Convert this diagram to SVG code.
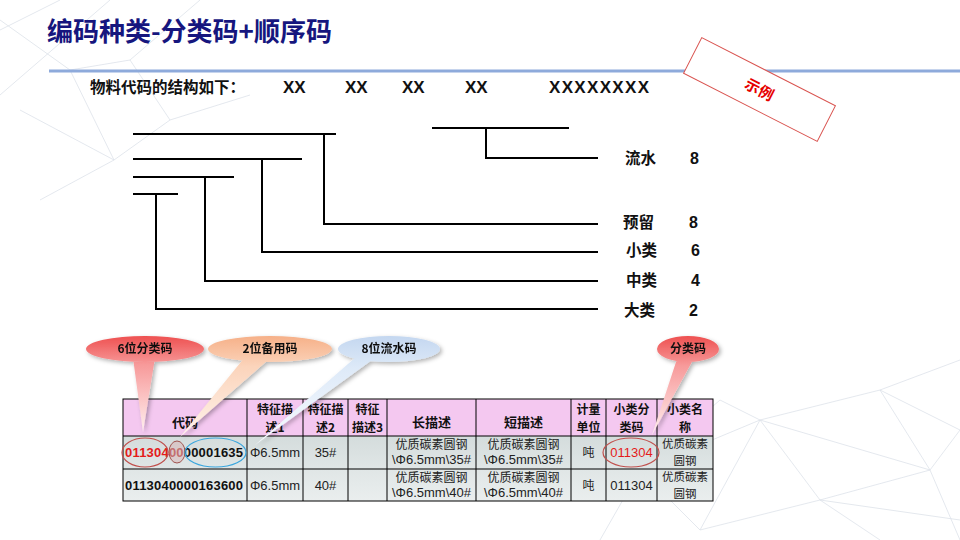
<svg xmlns="http://www.w3.org/2000/svg" width="960" height="540" viewBox="0 0 960 540">
<style>
.cjk{font-family:"Noto Sans CJK SC","Liberation Sans",sans-serif}
.lat{font-family:"Liberation Sans","Noto Sans CJK SC",sans-serif}
.b{font-weight:bold}
.ln{stroke:#000;stroke-width:2;fill:none}
.mesh{stroke:#dde2ea;stroke-width:0.8;fill:none}
.grid{stroke:#000;stroke-width:1;fill:none}
.hd{font-family:"Noto Sans CJK SC","Liberation Sans",sans-serif;font-weight:bold;font-size:13px;fill:#111;text-anchor:middle}
.hd2{font-family:"Noto Sans CJK SC","Liberation Sans",sans-serif;font-weight:bold;font-size:12px;fill:#111;text-anchor:middle}
.cell{font-family:"Noto Sans CJK SC","Liberation Sans",sans-serif;font-size:12px;fill:#222;text-anchor:middle}
.cell2{font-family:"Noto Sans CJK SC","Liberation Sans",sans-serif;font-size:11.5px;fill:#222;text-anchor:middle}
.num{font-family:"Liberation Sans","Noto Sans CJK SC",sans-serif;font-size:13px;fill:#222;text-anchor:middle}
.lbl{font-family:"Noto Sans CJK SC","Liberation Sans",sans-serif;font-weight:bold;font-size:15.5px;fill:#111}
.dg{font-family:"Liberation Sans",sans-serif;font-weight:bold;font-size:16px;fill:#111}
.ct{font-family:"Noto Sans CJK SC","Liberation Sans",sans-serif;font-weight:bold;font-size:12px;fill:#111;text-anchor:middle}
</style>
<defs>
<linearGradient id="gRed" x1="0" y1="0" x2="0" y2="1">
<stop offset="0" stop-color="#ee5050"/><stop offset="0.3" stop-color="#f79a9a"/><stop offset="1" stop-color="#fff0f0"/>
</linearGradient>
<linearGradient id="gPeach" x1="0" y1="0" x2="0" y2="1">
<stop offset="0" stop-color="#f6b088"/><stop offset="0.3" stop-color="#fbd4bb"/><stop offset="1" stop-color="#fff4ec"/>
</linearGradient>
<linearGradient id="gBlue" x1="0" y1="0" x2="0" y2="1">
<stop offset="0" stop-color="#c4d7f0"/><stop offset="0.3" stop-color="#deeaf8"/><stop offset="1" stop-color="#f8fbff"/>
</linearGradient>
<linearGradient id="gRow1" x1="0" y1="0" x2="0" y2="1">
<stop offset="0" stop-color="#d4dcdc"/><stop offset="1" stop-color="#e0e6e6"/>
</linearGradient>
<linearGradient id="gRow2" x1="0" y1="0" x2="0" y2="1">
<stop offset="0" stop-color="#e0e6e6"/><stop offset="1" stop-color="#eaeeee"/>
</linearGradient>
<filter id="sh" x="-20%" y="-20%" width="140%" height="140%">
<feDropShadow dx="2" dy="2" stdDeviation="2" flood-color="#000" flood-opacity="0.3"/>
</filter>
</defs>

<rect width="960" height="540" fill="#fff"/>

<!-- background mesh -->
<g id="background-mesh">
<path class="mesh" stroke="#dfe6f2" d="M0,30 L60,0 M0,95 L110,0 M20,110 L114,160 L70,70 L0,20 M114,160 L170,120 L130,60 L70,70 M170,120 L250,95 M114,160 L40,200 M130,60 L200,0"/>
<path class="mesh" d="M560,500 L640,470 L700,530 L760,420 L880,390 L960,430 M640,470 L760,420 L820,500 L930,470 L960,430 M700,530 L820,500 L880,540 M760,420 L930,470 L880,390 M820,500 L960,520 M600,540 L640,470 M930,470 L960,540 M880,390 L960,360 M720,400 L760,420 M720,400 L640,470"/>
</g>

<!-- title -->
<g id="title">
<text x="47" y="41" class="cjk b" font-size="26" fill="#16167e">编码种类-分类码+顺序码</text>
<line x1="49" y1="71" x2="960" y2="71" stroke="#8eaadb" stroke-width="3"/>
</g>

<!-- stamp -->
<g id="stamp" transform="rotate(27 759.5 89.5)">
<rect x="684.5" y="69.5" width="150" height="40" fill="#fff" stroke="#d9534f" stroke-width="1"/>
<text x="759.5" y="95" class="cjk b" font-size="15" fill="#e60000" text-anchor="middle">示例</text>
</g>

<!-- structure heading -->
<g id="structure-heading">
<text x="90" y="93" class="cjk b" font-size="15.5" fill="#111">物料代码的结构如下：</text>
<text x="283" y="93" class="lat b" font-size="17" fill="#111">XX</text>
<text x="345" y="93" class="lat b" font-size="17" fill="#111">XX</text>
<text x="402" y="93" class="lat b" font-size="17" fill="#111">XX</text>
<text x="465" y="93" class="lat b" font-size="17" fill="#111">XX</text>
<text x="549" y="93" class="lat b" font-size="17" fill="#111" textLength="100" lengthAdjust="spacing">XXXXXXXX</text>
</g>

<!-- connectors -->
<g id="connectors">
<path class="ln" d="M133,134 H336 M324,134 V224 H598"/>
<path class="ln" d="M133,159 H302 M262,159 V252 H598"/>
<path class="ln" d="M133,177 H234 M205,177 V281 H598"/>
<path class="ln" d="M133,194 H178 M156,194 V309 H598"/>
<path class="ln" d="M432,128 H569 M486,128 V158 H598"/>
</g>

<!-- labels -->
<g id="label-liushui"><text x="625" y="164" class="lbl">流水</text><text x="690" y="164" class="dg">8</text></g>
<g id="label-yuliu"><text x="623" y="228" class="lbl">预留</text><text x="689" y="228" class="dg">8</text></g>
<g id="label-xiaolei"><text x="626" y="256" class="lbl">小类</text><text x="691" y="256" class="dg">6</text></g>
<g id="label-zhonglei"><text x="626" y="286" class="lbl">中类</text><text x="691" y="286" class="dg">4</text></g>
<g id="label-dalei"><text x="624" y="316" class="lbl">大类</text><text x="689" y="316" class="dg">2</text></g>

<!-- table -->
<g id="table">
<rect x="123" y="399" width="590" height="37" fill="#f4c8f0"/>
<rect x="123" y="436" width="590" height="33" fill="url(#gRow1)"/>
<rect x="123" y="469" width="590" height="32" fill="url(#gRow2)"/>
<rect class="grid" x="123" y="399" width="590" height="102"/>
<path class="grid" d="M123,436 H713 M123,469 H713 M247,399 V501 M303,399 V501 M348,399 V501 M387,399 V501 M476,399 V501 M571,399 V501 M606,399 V501 M657,399 V501"/>
<!-- header -->
<text class="hd" x="185" y="427">代码</text>
<text class="hd2" x="275" y="414">特征描</text><text class="hd2" x="275" y="432">述1</text>
<text class="hd2" x="325.5" y="414">特征描</text><text class="hd2" x="325.5" y="432">述2</text>
<text class="hd2" x="367.5" y="414">特征</text><text class="hd2" x="367.5" y="432">描述3</text>
<text class="hd" x="431.5" y="427">长描述</text>
<text class="hd" x="523.5" y="427">短描述</text>
<text class="hd2" x="588.5" y="414">计量</text><text class="hd2" x="588.5" y="432">单位</text>
<text class="hd2" x="631.5" y="414">小类分</text><text class="hd2" x="631.5" y="432">类码</text>
<text class="hd2" x="685" y="414">小类名</text><text class="hd2" x="685" y="432">称</text>
<!-- row 1 -->
<text class="lat b" x="125" y="457" font-size="13" textLength="118" lengthAdjust="spacing"><tspan fill="#e41b1b">011304</tspan><tspan fill="#b85555">00</tspan><tspan fill="#111">00001635</tspan></text>
<text class="num" x="275" y="457">Φ6.5mm</text>
<text class="num" x="325.5" y="457">35#</text>
<text class="cell" x="431.5" y="449">优质碳素圆钢</text><text class="num" x="431.5" y="464">\Φ6.5mm\35#</text>
<text class="cell" x="523.5" y="449">优质碳素圆钢</text><text class="num" x="523.5" y="464">\Φ6.5mm\35#</text>
<text class="cell" x="588.5" y="457">吨</text>
<text class="num" x="631.5" y="457" style="fill:#e41b1b">011304</text>
<text class="cell2" x="685" y="448">优质碳素</text><text class="cell2" x="685" y="465">圆钢</text>
<!-- row 2 -->
<text class="lat b" x="125" y="490" font-size="13" fill="#111" textLength="118" lengthAdjust="spacing">0113040000163600</text>
<text class="num" x="275" y="490">Φ6.5mm</text>
<text class="num" x="325.5" y="490">40#</text>
<text class="cell" x="431.5" y="482">优质碳素圆钢</text><text class="num" x="431.5" y="497">\Φ6.5mm\40#</text>
<text class="cell" x="523.5" y="482">优质碳素圆钢</text><text class="num" x="523.5" y="497">\Φ6.5mm\40#</text>
<text class="cell" x="588.5" y="490">吨</text>
<text class="num" x="631.5" y="490">011304</text>
<text class="cell2" x="685" y="481">优质碳素</text><text class="cell2" x="685" y="498">圆钢</text>
</g>

<!-- highlight rings -->
<g id="highlights" fill="none">
<ellipse cx="145" cy="452.5" rx="23" ry="14.5" stroke="#c0504d" stroke-width="1.2"/>
<ellipse cx="177" cy="452" rx="8" ry="11" stroke="#a0524d" stroke-width="1" fill="#d9a0a0" fill-opacity="0.35"/>
<ellipse cx="215.5" cy="452.5" rx="30.5" ry="14.5" stroke="#3aa6dd" stroke-width="1.2"/>
<ellipse cx="631" cy="452.5" rx="28" ry="14.5" stroke="#c0504d" stroke-width="1.2"/>
</g>

<!-- callouts -->
<g id="callout-6wei" filter="url(#sh)">
<path fill="url(#gRed)" d="M86,349 A59,13 0 1 1 204,349 A59,13 0 1 1 86,349 Z M133,358 L155,358 L143,432 Z"/>
<text class="ct" x="145" y="353">6位分类码</text>
</g>
<g id="callout-2wei" filter="url(#sh)">
<path fill="url(#gPeach)" d="M208,349 A62,13 0 1 1 332,349 A62,13 0 1 1 208,349 Z M245,357 L268,360 L180,437 Z"/>
<text class="ct" x="270" y="353">2位备用码</text>
</g>
<g id="callout-8wei" filter="url(#sh)">
<path fill="url(#gBlue)" d="M338,349 A51,13 0 1 1 440,349 A51,13 0 1 1 338,349 Z M356,357 L372,360 L255,445 Z"/>
<text class="ct" x="389" y="353">8位流水码</text>
</g>
<g id="callout-fenlei" filter="url(#sh)">
<path fill="url(#gRed)" d="M657,349 A31,13 0 1 1 719,349 A31,13 0 1 1 657,349 Z M677,359 L693,360 L652,435 Z"/>
<text class="ct" x="688" y="353">分类码</text>
</g>
</svg>
